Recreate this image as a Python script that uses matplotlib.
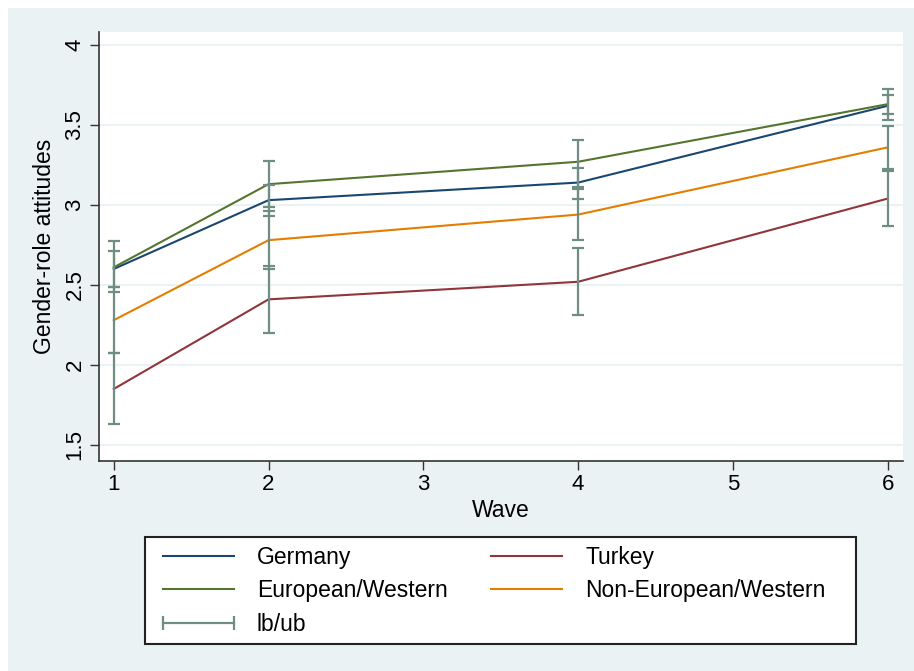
import numpy as np
import matplotlib.pyplot as plt
from matplotlib.patches import Rectangle
from matplotlib.lines import Line2D

plt.rcParams['font.family'] = ['Liberation Sans', 'DejaVu Sans']

# Data
waves = [1, 2, 4, 6]

germany = [2.60, 3.03, 3.14, 3.62]
germany_lb = [2.49, 2.93, 3.04, 3.53]
germany_ub = [2.71, 3.125, 3.23, 3.69]

turkey = [1.85, 2.41, 2.52, 3.04]
turkey_lb = [1.63, 2.20, 2.31, 2.87]
turkey_ub = [2.075, 2.62, 2.73, 3.21]

euro = [2.61, 3.13, 3.27, 3.63]
euro_lb = [2.455, 2.985, 3.11, 3.57]
euro_ub = [2.775, 3.275, 3.405, 3.725]

noneuro = [2.28, 2.78, 2.94, 3.36]
noneuro_lb = [2.075, 2.60, 2.78, 3.225]
noneuro_ub = [2.49, 2.965, 3.10, 3.495]

series = [
    ("Germany", germany, germany_lb, germany_ub, "#1a476f"),
    ("Turkey", turkey, turkey_lb, turkey_ub, "#90353b"),
    ("European/Western", euro, euro_lb, euro_ub, "#55752f"),
    ("Non-European/Western", noneuro, noneuro_lb, noneuro_ub, "#e37e00"),
]
cap_color = "#6e8e84"
bg = "#eaf2f3"
fs = 16
W, H = 914, 671

fig = plt.figure(figsize=(9.14, 6.71), dpi=100, facecolor="white")
# light graph region, thin white strip at top and left
fig.patches.append(Rectangle((8 / W, 0), 1, 1 - 8 / H,
                             transform=fig.transFigure, facecolor=bg,
                             edgecolor="none", zorder=-10))

ax = fig.add_axes([0.108, 0.3137, 0.880, 0.6386])
ax.set_facecolor("white")

for name, y, lb, ub, c in series:
    ax.plot(waves, y, color=c, lw=1.5, zorder=3)

for name, y, lb, ub, c in series:
    y = np.array(y)
    err = [y - np.array(lb), np.array(ub) - y]
    ax.errorbar(waves, y, yerr=err, fmt="none", ecolor=cap_color,
                elinewidth=1.6, capsize=4.5, capthick=1.6, zorder=4)

ax.set_xlim(0.903, 6.099)
ax.set_ylim(1.403, 4.081)
ax.set_xticks([1, 2, 3, 4, 5, 6])
ax.set_yticks([1.5, 2, 2.5, 3, 3.5, 4])
ax.set_yticklabels(["1.5", "2", "2.5", "3", "3.5", "4"], rotation=90, va="center")
ax.tick_params(axis="both", labelsize=fs, length=6.5, width=1, color="#333333")
ax.tick_params(axis="y", pad=3)
ax.tick_params(axis="x", pad=3)
ax.grid(axis="y", color=bg, lw=1.5, zorder=0)
ax.set_axisbelow(True)
for s in ["top", "right"]:
    ax.spines[s].set_visible(False)
for s in ["left", "bottom"]:
    ax.spines[s].set_color("#333333")
    ax.spines[s].set_linewidth(1.2)

ax.set_xlabel("Wave", fontsize=16.5, labelpad=3)
ax.set_ylabel("Gender-role attitudes", fontsize=16.5, labelpad=6)

# legend box drawn separately so the columns can sit where they do in the original
fig.patches.append(Rectangle((145 / W, 1 - 644 / H), 711 / W, 107 / H,
                             transform=fig.transFigure, facecolor="white",
                             edgecolor="#222222", lw=1.5, zorder=1))

handles = [Line2D([], [], color=s[4], lw=1.5) for s in series]
labels = [s[0] for s in series]
cap_handle = Line2D([], [], color=cap_color, lw=1.6, marker="|",
                    markersize=10, markeredgewidth=1.6)
# column-major order: Germany, European/Western, lb/ub | Turkey, Non-European
leg_handles = [handles[0], handles[2], cap_handle, handles[1], handles[3]]
leg_labels = [labels[0], labels[2], "lb/ub", labels[1], labels[3]]
leg = fig.legend(leg_handles, leg_labels, ncol=2,
                 bbox_to_anchor=(156 / W, 1 - 546 / H),
                 loc="upper left", fontsize=16.5, frameon=False,
                 handlelength=3.7, handletextpad=0.7, columnspacing=1.6,
                 labelspacing=0.45, borderpad=0, borderaxespad=0,
                 numpoints=2)

fig.savefig("out.png", dpi=100, facecolor=fig.get_facecolor())
